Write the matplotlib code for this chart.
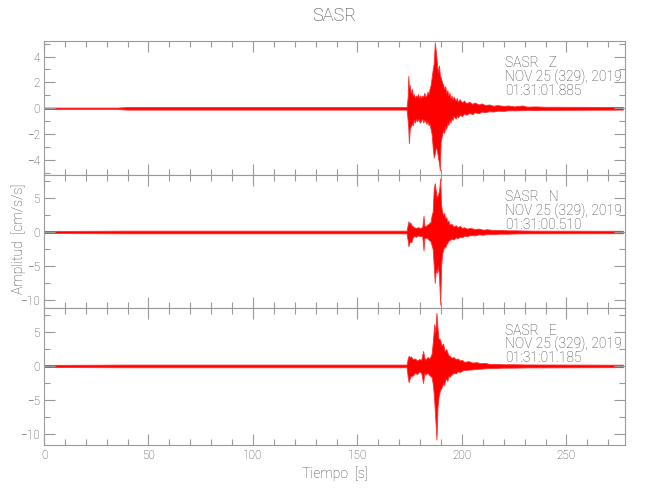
import matplotlib
matplotlib.use("Agg")
import matplotlib.pyplot as plt
from matplotlib.ticker import MultipleLocator

plt.rcParams['font.family'] = ['Roboto', 'DejaVu Sans']
plt.rcParams['font.weight'] = 'light'
plt.rcParams['axes.labelweight'] = 'light'

# ---- data: envelope of each trace (time [s], upper, lower) ----
z_t  = [0, 35, 40, 170, 173.5, 174.0, 174.3, 174.6, 175.0, 175.5, 176.0, 176.5, 177.0, 177.5,
        178, 178.5, 179, 179.5, 180, 180.5, 181, 181.5, 182, 182.5, 183, 183.5, 184, 184.5,
        185, 185.5, 186, 186.5, 187.0, 187.5, 188, 188.5, 189, 189.4, 189.8, 190.5, 191,
        191.5, 192, 192.5, 193, 193.5, 194, 194.5, 195, 195.5, 196, 197, 197.5, 198, 199,
        200, 201, 202, 203.5, 205, 206, 208, 209.5, 211, 213, 215, 217, 220, 222, 225,
        229, 231, 235, 240, 245, 277]
z_up = [0.06, 0.06, 0.1, 0.1, 0.1, 0.8, 2.5, 1.6, 1.8, 1.2, 1.5, 1.0, 1.1, 0.8,
        1.0, 0.9, 1.1, 0.8, 1.0, 0.8, 1.0, 0.9, 1.2, 0.9, 1.0, 1.3, 1.1, 1.5,
        1.8, 2.4, 3.0, 3.5, 5.1, 4.4, 3.5, 2.8, 3.3, 2.6, 2.4, 2.0, 1.8,
        1.5, 1.7, 1.2, 1.4, 1.0, 1.2, 0.8, 1.0, 0.7, 0.9, 0.6, 0.8, 0.5, 0.7,
        0.45, 0.6, 0.4, 0.5, 0.35, 0.45, 0.3, 0.38, 0.25, 0.3, 0.2, 0.25, 0.18, 0.22, 0.15,
        0.22, 0.13, 0.15, 0.12, 0.12, 0.1]
z_lo = [-0.06, -0.06, -0.1, -0.1, -0.1, -0.9, -1.5, -2.7, -1.6, -1.4, -1.2, -1.3, -0.9, -1.1,
        -0.8, -1.0, -0.8, -1.0, -1.1, -0.9, -0.8, -1.1, -0.9, -1.0, -1.2, -1.0, -1.3, -1.2,
        -1.6, -2.0, -3.0, -3.8, -3.5, -3.0, -3.2, -3.8, -4.2, -4.8, -2.6, -2.0, -1.7,
        -1.9, -1.4, -1.6, -1.1, -1.3, -0.9, -1.1, -0.8, -0.9, -0.6, -0.8, -0.55, -0.7, -0.5,
        -0.6, -0.4, -0.5, -0.35, -0.45, -0.3, -0.38, -0.25, -0.3, -0.22, -0.25, -0.18, -0.2, -0.15, -0.16,
        -0.14, -0.13, -0.13, -0.12, -0.12, -0.1]

n_t  = [0, 40, 173.5, 174.0, 174.4, 174.8, 175.3, 175.8, 176.3, 177, 178, 179, 180, 181,
        181.6, 182.0, 182.5, 183, 184, 185, 185.5, 186, 186.5, 187, 187.5, 188, 188.5, 189,
        189.6, 190, 190.5, 191, 191.5, 192, 192.5, 193, 193.5, 194, 195, 196, 197, 198, 199,
        200, 201, 202.5, 204, 206, 208, 210, 212, 215, 218, 222, 225, 230, 235, 277]
n_up = [0.15, 0.2, 0.2, 1.0, 1.6, 1.2, 1.4, 1.0, 0.9, 0.7, 0.6, 0.7, 0.6, 0.7,
        2.4, 1.0, 0.8, 1.0, 1.2, 1.5, 2.5, 3.0, 6.5, 7.2, 6.0, 5.0, 5.5, 6.0,
        7.9, 4.0, 3.0, 2.5, 2.8, 2.0, 2.2, 1.5, 1.7, 1.1, 1.2, 0.8, 1.0, 0.7, 0.9,
        0.6, 0.7, 0.5, 0.6, 0.45, 0.5, 0.35, 0.4, 0.3, 0.3, 0.25, 0.25, 0.22, 0.2, 0.18]
n_lo = [-0.15, -0.2, -0.2, -1.2, -2.1, -1.6, -1.4, -1.5, -0.9, -0.6, -0.7, -0.5, -0.6, -0.6,
        -2.7, -0.9, -0.9, -0.8, -1.1, -1.4, -2.0, -2.5, -5.0, -7.5, -5.5, -6.0, -5.0, -6.5,
        -10.7, -5.0, -3.2, -2.6, -2.2, -2.3, -1.8, -1.6, -1.3, -1.2, -1.0, -1.1, -0.8, -0.9, -0.7,
        -0.8, -0.55, -0.6, -0.45, -0.5, -0.35, -0.4, -0.3, -0.3, -0.25, -0.25, -0.22, -0.2, -0.2, -0.18]

e_t  = [0, 40, 173.5, 174.0, 174.5, 175, 175.5, 176.5, 177.5, 178.5, 179.5, 180.5, 181.4,
        182, 182.5, 183.5, 184.5, 185.5, 186.2, 186.7, 187.2, 187.8, 188.3, 188.8, 189.5,
        190.2, 191, 191.5, 192, 192.5, 193, 193.5, 194, 195, 196, 197, 198, 199, 200, 201,
        203, 205, 207, 209, 211, 213, 216, 220, 225, 230, 277]
e_up = [0.15, 0.2, 0.2, 1.0, 1.5, 1.3, 1.4, 1.0, 1.1, 0.8, 1.0, 0.9, 2.2,
        1.2, 0.9, 1.3, 1.1, 1.8, 4.0, 6.1, 5.0, 7.8, 5.5, 4.0, 3.9,
        3.0, 3.3, 2.4, 2.2, 2.5, 2.0, 1.6, 1.5, 1.2, 1.3, 1.0, 1.1, 0.8, 0.9, 0.6,
        0.7, 0.5, 0.55, 0.4, 0.45, 0.3, 0.3, 0.25, 0.25, 0.22, 0.18]
e_lo = [-0.15, -0.2, -0.2, -1.5, -2.4, -1.8, -1.5, -1.4, -1.0, -1.2, -0.8, -1.0, -2.5,
        -1.0, -1.3, -1.0, -1.4, -1.6, -3.0, -5.0, -7.5, -10.8, -6.0, -4.5, -3.6,
        -3.2, -2.5, -2.8, -2.0, -1.9, -2.2, -1.5, -1.6, -1.3, -1.0, -1.1, -0.8, -0.9, -0.7, -0.6,
        -0.55, -0.5, -0.45, -0.4, -0.35, -0.3, -0.3, -0.25, -0.25, -0.22, -0.18]

components = ["Z", "N", "E"]
start_times = ["01:31:01.885", "01:31:00.510", "01:31:01.185"]
date_label = "NOV 25 (329), 2019"
station = "SASR"
ylims = [(-5.15, 5.2), (-11.2, 8.4), (-11.6, 8.5)]
ymajor = [2, 5, 5]
yminor = [1, 2.5, 2.5]
xmax = 278

traces = [(z_t, z_up, z_lo), (n_t, n_up, n_lo), (e_t, e_up, e_lo)]

AX_COL = "#9a9a9a"
TXT_COL = "#404040"

fig = plt.figure(figsize=(6.5, 5.0), dpi=100)
left, right = 0.0677, 0.9615
bounds = [(0.650, 0.918), (0.384, 0.650), (0.110, 0.384)]

for i, ((t, up, lo), comp, st) in enumerate(zip(traces, components, start_times)):
    b0, b1 = bounds[i]
    ax = fig.add_axes([left, b0, right - left, b1 - b0])
    ax.fill_between(t, lo, up, color="#ff0000", linewidth=0.6, edgecolor="#ff3030")
    ax.set_xlim(0, xmax)
    ax.set_ylim(*ylims[i])
    ax.xaxis.set_major_locator(MultipleLocator(50))
    ax.xaxis.set_minor_locator(MultipleLocator(10))
    ax.yaxis.set_major_locator(MultipleLocator(ymajor[i]))
    ax.yaxis.set_minor_locator(MultipleLocator(yminor[i]))
    ax.tick_params(which="both", direction="in", top=True, right=True, colors=AX_COL,
                   labelcolor=TXT_COL, labelsize=8.5, width=0.8, pad=3)
    ax.tick_params(which="major", length=8)
    ax.tick_params(which="minor", length=4)
    for s in ax.spines.values():
        s.set_color(AX_COL)
        s.set_linewidth(0.8)
    if i < 2:
        ax.tick_params(labelbottom=False)
    ax.text(0.793, 0.885, f"{station}   {comp}\n{date_label}\n{st}", transform=ax.transAxes,
            ha="left", va="top", fontsize=10, color=TXT_COL, linespacing=0.93,
            fontweight="light")
    if i == 2:
        ax.set_xlabel("Tiempo  [s]", color=TXT_COL, fontsize=10, labelpad=3,
                      fontweight="light")

fig.text(0.514, 0.968, station, ha="center", va="center", fontsize=13, color=TXT_COL,
         fontweight="light")
fig.text(0.029, 0.522, "Amplitud  [cm/s/s]", rotation=90, ha="center", va="center",
         fontsize=10, color=TXT_COL, fontweight="light")

fig.savefig("out.png", dpi=100, facecolor="white")
